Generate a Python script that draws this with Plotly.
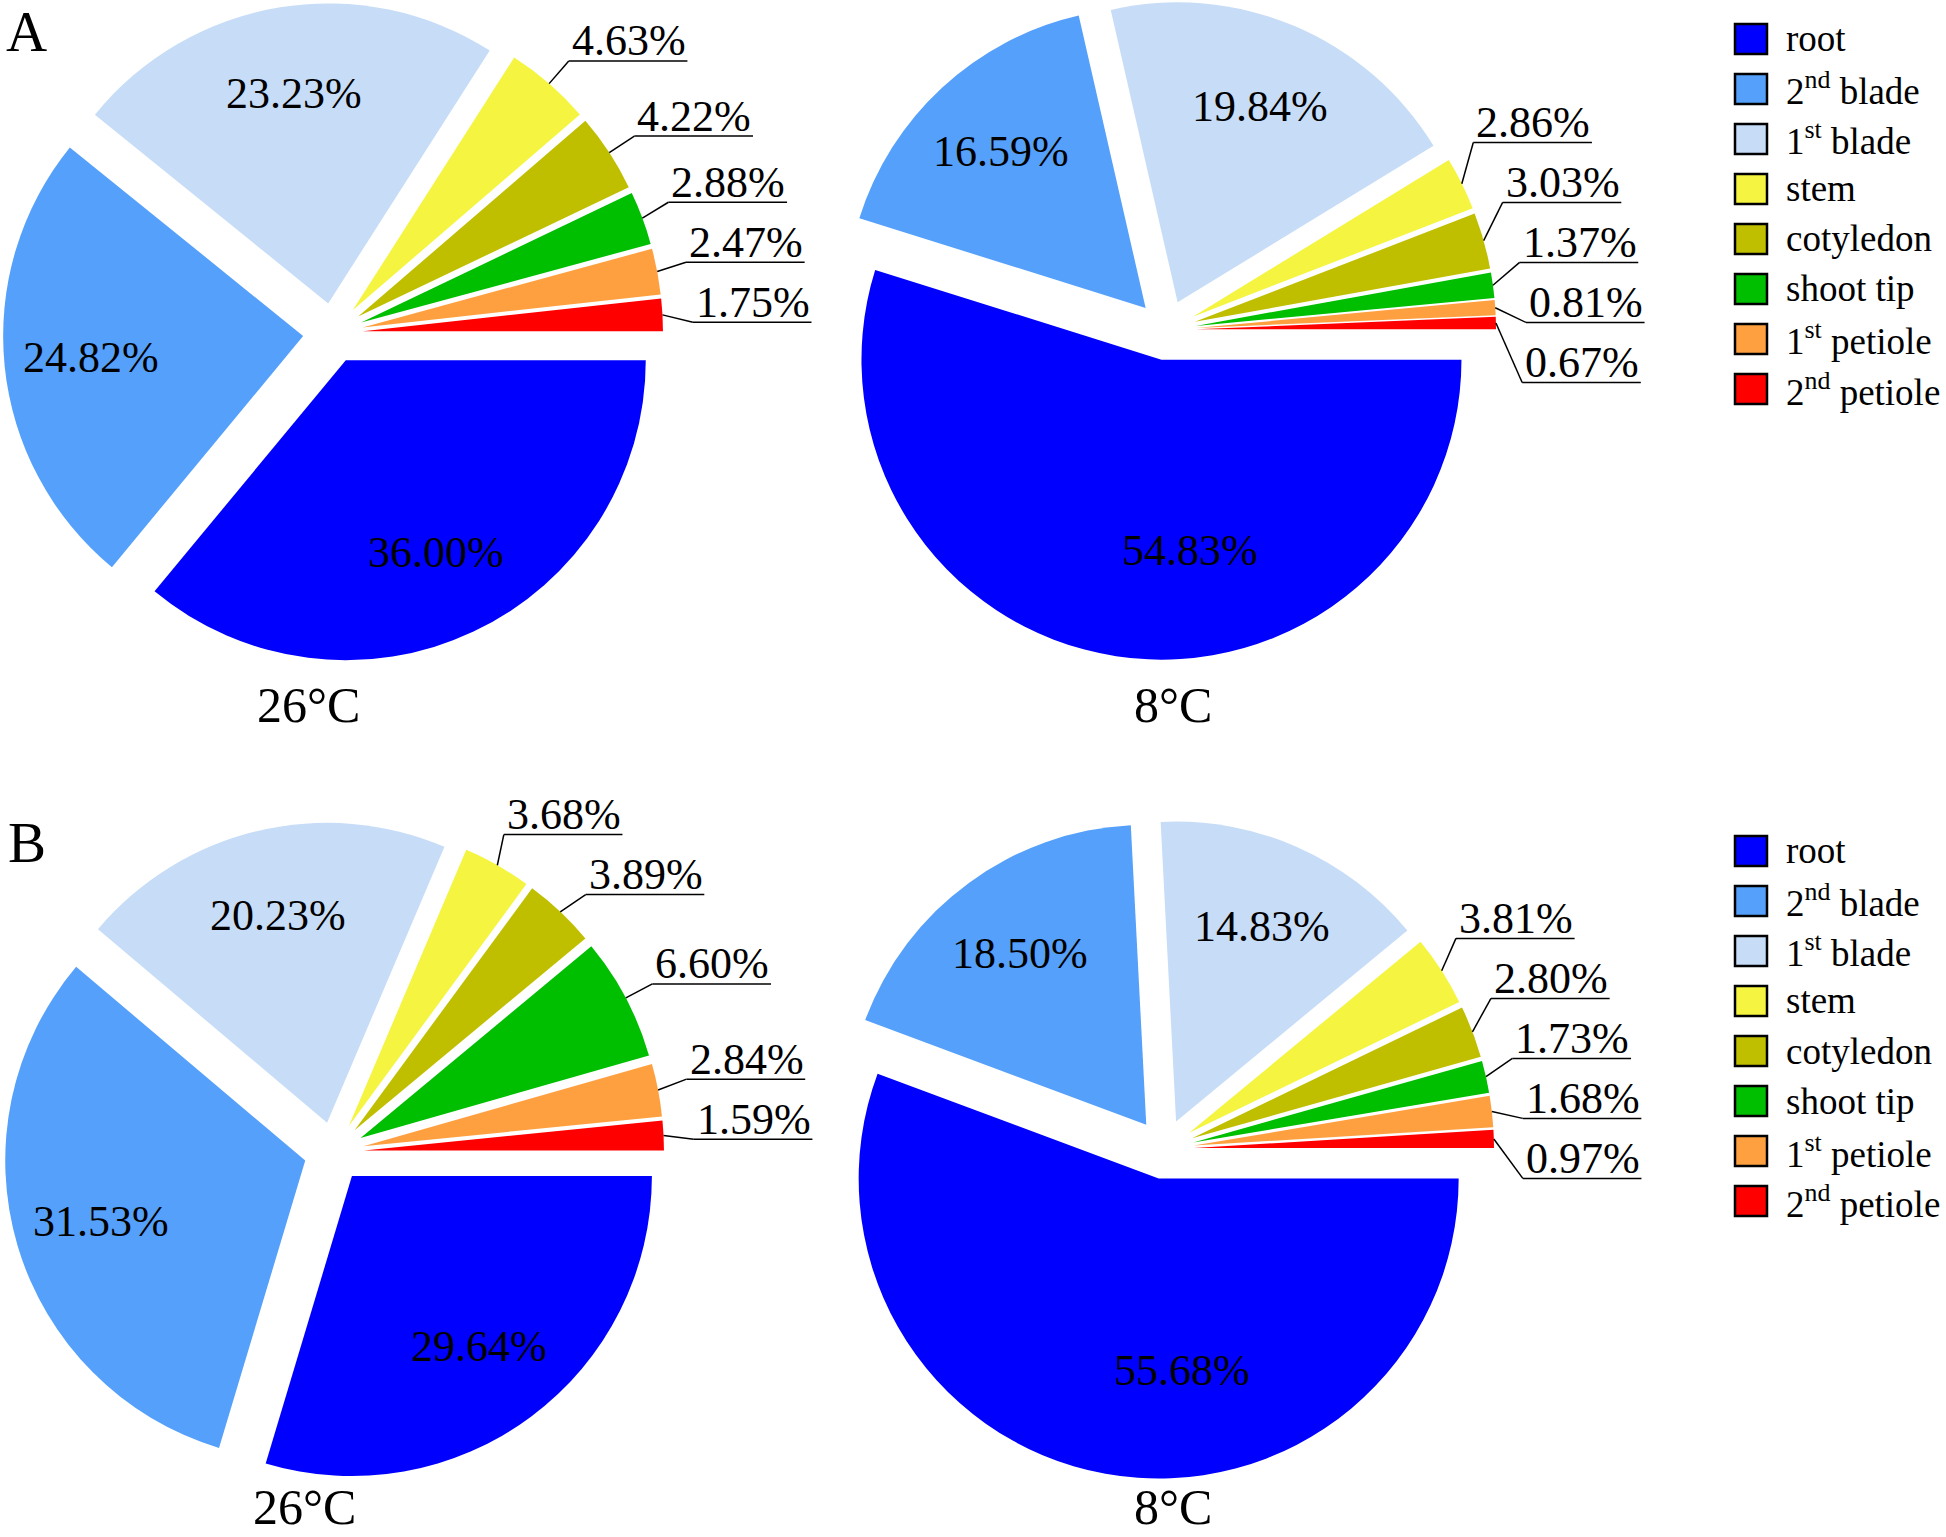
import numpy as np
import plotly.graph_objects as go

# ---------------- data ----------------
parts = ["root", "2nd blade", "1st blade", "stem", "cotyledon",
         "shoot tip", "1st petiole", "2nd petiole"]
legend_names = ["root", "2<sup>nd</sup> blade", "1<sup>st</sup> blade", "stem",
                "cotyledon", "shoot tip", "1<sup>st</sup> petiole",
                "2<sup>nd</sup> petiole"]
colors = ["#0000FF", "#55A0FB", "#C7DDF7", "#F4F441", "#BFBF00",
          "#00BE00", "#FFA040", "#FF0000"]

a_26C = [36.00, 24.82, 23.23, 4.63, 4.22, 2.88, 2.47, 1.75]
a_8C = [54.83, 16.59, 19.84, 2.86, 3.03, 1.37, 0.81, 0.67]
b_26C = [29.64, 31.53, 20.23, 3.68, 3.89, 6.60, 2.84, 1.59]
b_8C = [55.68, 18.50, 14.83, 3.81, 2.80, 1.73, 1.68, 0.97]

conditions = ["26°C", "8°C", "26°C", "8°C"]
panel_letters = ["A", "B"]

# ---------------- layout constants ----------------
W, H = 1946, 1537
R = 300          # pie radius in px
PULL = 0.1
FONT = "Liberation Serif, Times New Roman, serif"
centers = [(333, 333), (1166, 330), (334, 1152), (1164, 1149)]
cond_pos = [(308, 705), (1173, 705), (304, 1507), (1173, 1507)]
letter_pos = [(26, 32), (27, 843)]
legend_top = [39, 851]
legend_step = 50
LBL_FS = 44
GAP = 60
SMALL = 0.08

def px(x):
    return float(min(max(x / W, 0.0), 1.0))

def py(y):
    return float(min(max(1 - y / H, 0.0), 1.0))

char_w = {c: 0.5 for c in "0123456789"}
char_w["."] = 0.25
char_w["%"] = 0.833

def text_width(s, fs):
    return sum(char_w.get(c, 0.5) for c in s) * fs

def spread(desired, gap):
    clusters = []
    for i, d in enumerate(desired):
        clusters.append([[i], d])
        while len(clusters) > 1:
            a, b = clusters[-2], clusters[-1]
            na, nb = len(a[0]), len(b[0])
            a_bottom = a[1] / na + (na - 1) / 2 * gap
            b_top = b[1] / nb - (nb - 1) / 2 * gap
            if b_top - a_bottom < gap:
                clusters[-2] = [a[0] + b[0], a[1] + b[1]]
                clusters.pop()
            else:
                break
    out = [0.0] * len(desired)
    for idx, s in clusters:
        n = len(idx)
        top = s / n - (n - 1) / 2 * gap
        for k, i in enumerate(idx):
            out[i] = top + k * gap
    return out

fig = go.Figure()
annotations = []
shapes = []

all_values = [a_26C, a_8C, b_26C, b_8C]
for p, vals in enumerate(all_values):
    cx, cy = centers[p]
    half = R * (1 + PULL)
    fig.add_trace(go.Pie(
        labels=parts, values=vals, sort=False, direction="clockwise",
        rotation=90, pull=PULL, textinfo="none", hoverinfo="label+percent",
        marker=dict(colors=colors, line=dict(width=0)),
        domain=dict(x=[px(cx - half), px(cx + half)],
                    y=[py(cy + half), py(cy - half)]),
        showlegend=False,
    ))
    v = np.array(vals, dtype=float)
    frac = v / v.sum()
    cum = np.cumsum(frac)
    mids = -(cum - frac / 2) * 360.0
    small_idx = [i for i in range(len(v)) if frac[i] < SMALL]
    big_idx = [i for i in range(len(v)) if frac[i] >= SMALL]
    # inside labels
    for i in big_idx:
        if frac[i] > 0.5:
            ang, rr = mids[i] + 15, 0.74
        else:
            ang, rr = mids[i], 0.81
        t = np.radians(ang)
        x = cx + rr * R * np.cos(t)
        y = cy - rr * R * np.sin(t)
        annotations.append(dict(
            x=px(x), y=py(y), xref="paper", yref="paper",
            text=f"{vals[i]:.2f}%", showarrow=False,
            xanchor="center", yanchor="middle",
            font=dict(family=FONT, size=LBL_FS, color="black")))
    # outside labels with leader and underline
    rl = 1.2 * R
    desired = [cy - rl * np.sin(np.radians(mids[i])) for i in small_idx]
    ys = spread(desired, GAP)
    for i, yl in zip(small_idx, ys):
        t = np.radians(mids[i])
        sx = cx + 1.1 * R * np.cos(t)
        sy = cy - 1.1 * R * np.sin(t)
        dy = yl - cy
        xl = cx + np.sqrt(max(rl ** 2 - dy ** 2, 0))
        xl = max(xl, sx)
        txt = f"{vals[i]:.2f}%"
        tw = text_width(txt, LBL_FS)
        line = dict(color="black", width=1.5)
        shapes.append(dict(type="line", xref="paper", yref="paper",
                           x0=px(sx), y0=py(sy), x1=px(xl), y1=py(yl),
                           line=line))
        shapes.append(dict(type="line", xref="paper", yref="paper",
                           x0=px(xl), y0=py(yl), x1=px(xl + tw + 5),
                           y1=py(yl), line=line))
        annotations.append(dict(
            x=px(xl + 1), y=py(yl - 20), xref="paper", yref="paper",
            text=txt, showarrow=False, xanchor="left", yanchor="middle",
            font=dict(family=FONT, size=LBL_FS, color="black")))
    # condition label
    annotations.append(dict(
        x=px(cond_pos[p][0]), y=py(cond_pos[p][1]), xref="paper",
        yref="paper", text=conditions[p], showarrow=False,
        xanchor="center", yanchor="middle",
        font=dict(family=FONT, size=50, color="black")))

# panel letters and legends
for k, letter in enumerate(panel_letters):
    annotations.append(dict(
        x=px(letter_pos[k][0]), y=py(letter_pos[k][1]), xref="paper",
        yref="paper", text=letter, showarrow=False, xanchor="center",
        yanchor="middle", font=dict(family=FONT, size=57, color="black")))
    for j, name in enumerate(legend_names):
        yc = legend_top[k] + j * legend_step
        shapes.append(dict(type="rect", xref="paper", yref="paper",
                           x0=px(1735), x1=px(1767), y0=py(yc - 15),
                           y1=py(yc + 15), fillcolor=colors[j],
                           line=dict(color="black", width=2.5)))
        annotations.append(dict(
            x=px(1784), y=py(yc), xref="paper", yref="paper", text=name,
            showarrow=False, xanchor="left", yanchor="middle",
            font=dict(family=FONT, size=37, color="black")))

fig.update_layout(
    width=W, height=H, margin=dict(l=0, r=0, t=0, b=0),
    paper_bgcolor="white", plot_bgcolor="white",
    annotations=annotations, shapes=shapes, showlegend=False,
)
fig.write_html(
    "out.html",
    config={"displayModeBar": False},
    post_script="document.body.style.margin='0';document.body.style.padding='0';",
)
